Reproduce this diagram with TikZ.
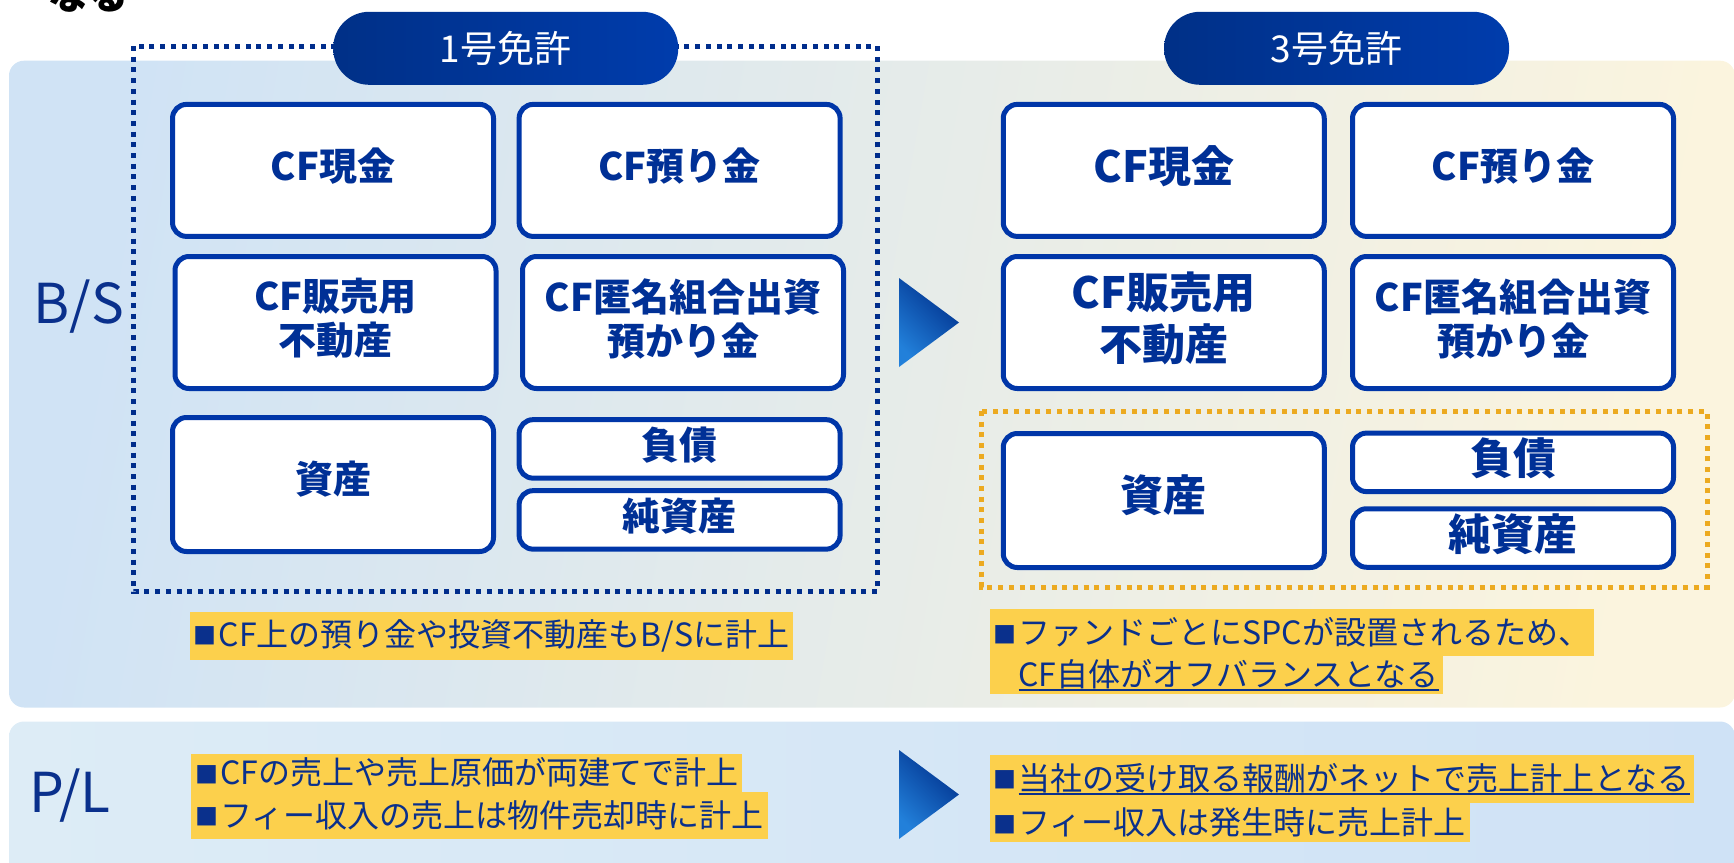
\documentclass[tikz,border=0pt]{standalone}
\usepackage{fontspec}
\setmainfont{Noto Sans CJK JP}
\definecolor{navy}{RGB}{10,48,140}
\definecolor{boxblue}{RGB}{0,54,168}
\definecolor{boxtext}{RGB}{0,48,150}
\definecolor{dotblue}{RGB}{0,45,140}
\definecolor{dotorange}{RGB}{236,170,32}
\definecolor{hl}{RGB}{252,208,76}
\definecolor{pillL}{RGB}{0,48,135}
\definecolor{pillR}{RGB}{0,60,172}
\definecolor{arrL}{RGB}{34,128,218}
\definecolor{arrR}{RGB}{0,48,140}
\definecolor{bsL}{RGB}{208,227,245}
\definecolor{bsR}{RGB}{251,244,222}
\definecolor{plL}{RGB}{221,236,246}
\definecolor{plR}{RGB}{207,226,246}
\newcommand\myul[1]{\setbox0=\hbox{#1}\rlap{\rule[-4.5pt]{\wd0}{1.8pt}}\box0}
\newcommand\bul{\raisebox{1.5pt}{\fontsize{23}{23}\selectfont ■}\hspace{2pt}}
\tikzset{
  bx/.style={draw=boxblue, line width=5pt, fill=white, rounded corners=14pt, inner sep=0pt},
  bxA/.style={bx, minimum width=321pt, minimum height=132pt},
  bxB/.style={bx, minimum width=321pt, minimum height=134pt},
  bxC/.style={bx, minimum width=321pt, minimum height=58.5pt},
  btxt/.style={text=boxtext, font=\bfseries\fontsize{38}{44}\selectfont, align=center, inner sep=0pt},
  btxtL/.style={text=boxtext, font=\bfseries\fontsize{43}{52}\selectfont, align=center, inner sep=0pt},
  note/.style={fill=hl, text=navy, font=\fontsize{32}{38}\selectfont, inner xsep=4pt, inner ysep=0pt, anchor=north west},
  pill/.style={rounded corners=36pt, left color=pillL, right color=pillR, minimum width=345pt, minimum height=73pt, text=white, font=\fontsize{37}{40}\selectfont, inner sep=0pt},
  dotline/.style={line width=5pt, dash pattern=on 5pt off 5.7pt},
  tri/.style={left color=arrL, right color=arrR, shading angle=135},
  sidelbl/.style={text=navy, font=\fontsize{55}{60}\selectfont, anchor=base, inner sep=0pt}
}
\begin{document}
\begin{tikzpicture}[x=1pt, y=-1pt]
\useasboundingbox (0,0) rectangle (1734,862);
% panels
\shade[rounded corners=15pt, left color=bsL, right color=bsR, shading angle=80] (9,60.7) rectangle (1735,707.5);
\shade[rounded corners=15pt, left color=plL, right color=plR] (9,721.5) rectangle (1735,900);
% title fragment
\node[anchor=south west, inner sep=0pt, font=\bfseries\fontsize{40}{40}\selectfont] (ttl) at (48,13) {なる};
% dotted frames
\draw[dotline, dotblue] (133.7,46) rectangle (877,591.7);
\draw[dotline, dotorange] (981.5,411) rectangle (1707,587);
% left boxes
\node[bxA] (a1) at (333,170.4) {};
\node[bxA] (a2) at (679.6,170.4) {};
\node[bxA] (a3) at (335.5,322.5) {};
\node[bxA] (a4) at (683,322.5) {};
\node[bxB] (a5) at (333,484.5) {};
\node[bxC] (a6) at (679.6,448.9) {};
\node[bxC] (a7) at (679.6,519.9) {};
\node[btxt] (ta1) at ([yshift=4pt]a1.center) {CF現金};
\node[btxt] (ta2) at ([yshift=4pt]a2.center) {CF預り金};
\node[btxt] (ta3) at ([yshift=4pt]a3.center) {CF販売用\\不動産};
\node[btxt] (ta4) at ([yshift=4pt]a4.center) {CF匿名組合出資\\預かり金};
\node[btxt] (ta5) at ([yshift=5pt]a5.center) {資産};
\node[btxt] (ta6) at ([yshift=4pt]a6.center) {負債};
\node[btxt] (ta7) at ([yshift=4pt]a7.center) {純資産};
% right boxes
\node[bxA] (b1) at (1163.75,170.4) {};
\node[bxA] (b2) at (1513,170.4) {};
\node[bxA] (b3) at (1163.75,322.5) {};
\node[bxA] (b4) at (1513,322.5) {};
\node[bxB] (b5) at (1163.75,500.5) {};
\node[bxC] (b6) at (1513,462.35) {};
\node[bxC] (b7) at (1513,538) {};
\node[btxtL] (tb1) at ([yshift=4pt]b1.center) {CF現金};
\node[btxt] (tb2) at ([yshift=4pt]b2.center) {CF預り金};
\node[btxtL] (tb3) at ([yshift=4pt]b3.center) {CF販売用\\不動産};
\node[btxt] (tb4) at ([yshift=4pt]b4.center) {CF匿名組合出資\\預かり金};
\node[btxtL] (tb5) at ([yshift=5pt]b5.center) {資産};
\node[btxtL] (tb6) at ([yshift=4pt]b6.center) {負債};
\node[btxtL] (tb7) at ([yshift=4pt]b7.center) {純資産};
% pills
\node[pill] (p1) at (505.7,48.3) {1号免許};
\node[pill] (p2) at (1336.6,48.3) {3号免許};
% arrows
\shade[tri] (899,278) -- (959,322.5) -- (899,367) -- cycle;
\shade[tri] (899,750) -- (959,794.5) -- (899,839) -- cycle;
% side labels
\node[sidelbl] (bs) at (79,323) {B/S};
\node[sidelbl] (pl) at (70,812) {P/L};
% notes
\node[note, minimum height=47.6pt] (n1) at (189.4,611.7) {\bul CF上の預り金や投資不動産もB/Sに計上};
\node[note, minimum height=47.7pt] (n2) at (989.3,608.3) {\bul ファンドごとにSPCが設置されるため、};
\node[note, minimum height=37.3pt] (n3) at (989.3,656) {\phantom{\bul}\myul{CF自体がオフバランスとなる}};
\node[note, minimum height=38.4pt] (n4) at (191,753.3) {\bul CFの売上や売上原価が両建てで計上};
\node[note, minimum height=46.6pt] (n5) at (191,791.7) {\bul フィー収入の売上は物件売却時に計上};
\node[note, minimum height=47.7pt] (n6) at (989.3,755) {\bul \myul{当社の受け取る報酬がネットで売上計上となる}};
\node[note, minimum height=39pt] (n7) at (989.3,802.7) {\bul フィー収入は発生時に売上計上};
\end{tikzpicture}
\end{document}
